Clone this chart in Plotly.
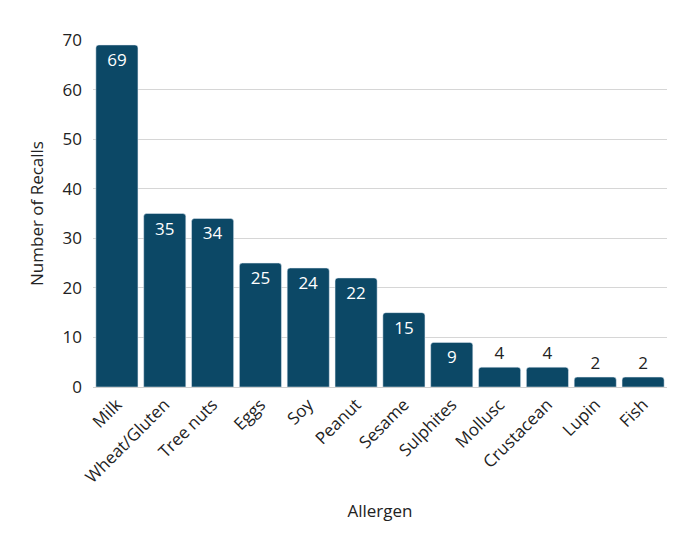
import plotly.graph_objects as go

# Recalls by allergen
allergens = ['Milk', 'Wheat/Gluten', 'Tree nuts', 'Eggs', 'Soy', 'Peanut',
             'Sesame', 'Sulphites', 'Mollusc', 'Crustacean', 'Lupin', 'Fish']
recalls = [69, 35, 34, 25, 24, 22, 15, 9, 4, 4, 2, 2]

# small bars get their label above the bar
label_pos = ['inside' if v >= 5 else 'outside' for v in recalls]

fig = go.Figure()

fig.add_trace(go.Bar(
    x=allergens,
    y=recalls,
    marker=dict(color='#0c4866'),
    text=recalls,
    textposition=label_pos,
    insidetextanchor='end',
    insidetextfont=dict(color='white', size=17),
    outsidetextfont=dict(color='#222222', size=17),
    constraintext='none',
    cliponaxis=False,
))

# page body adds an 8px offset, margins allow for it
fig.update_layout(
    width=700,
    height=554,
    margin=dict(l=85, r=41, t=32, b=175),
    plot_bgcolor='white',
    paper_bgcolor='white',
    font=dict(family='Open Sans', size=17, color='#222222'),
    bargap=0.12,
    barcornerradius=3,
    showlegend=False,
    xaxis=dict(
        title=dict(text='Allergen', standoff=18,
                   font=dict(family='Open Sans', size=17, color='#222222')),
        tickangle=-45,
        tickfont=dict(size=17),
        showgrid=False,
        showline=True,
        linecolor='#d0d0d0',
        automargin=False,
    ),
    yaxis=dict(
        title=dict(text='Number of Recalls', standoff=14,
                   font=dict(family='Open Sans', size=17, color='#222222')),
        range=[0, 70],
        dtick=10,
        tickfont=dict(size=17),
        ticklabelstandoff=10,
        showgrid=True,
        gridcolor='#d6d6d6',
        zeroline=False,
        ticks='',
        automargin=False,
    ),
)

fig.write_html("out.html")
